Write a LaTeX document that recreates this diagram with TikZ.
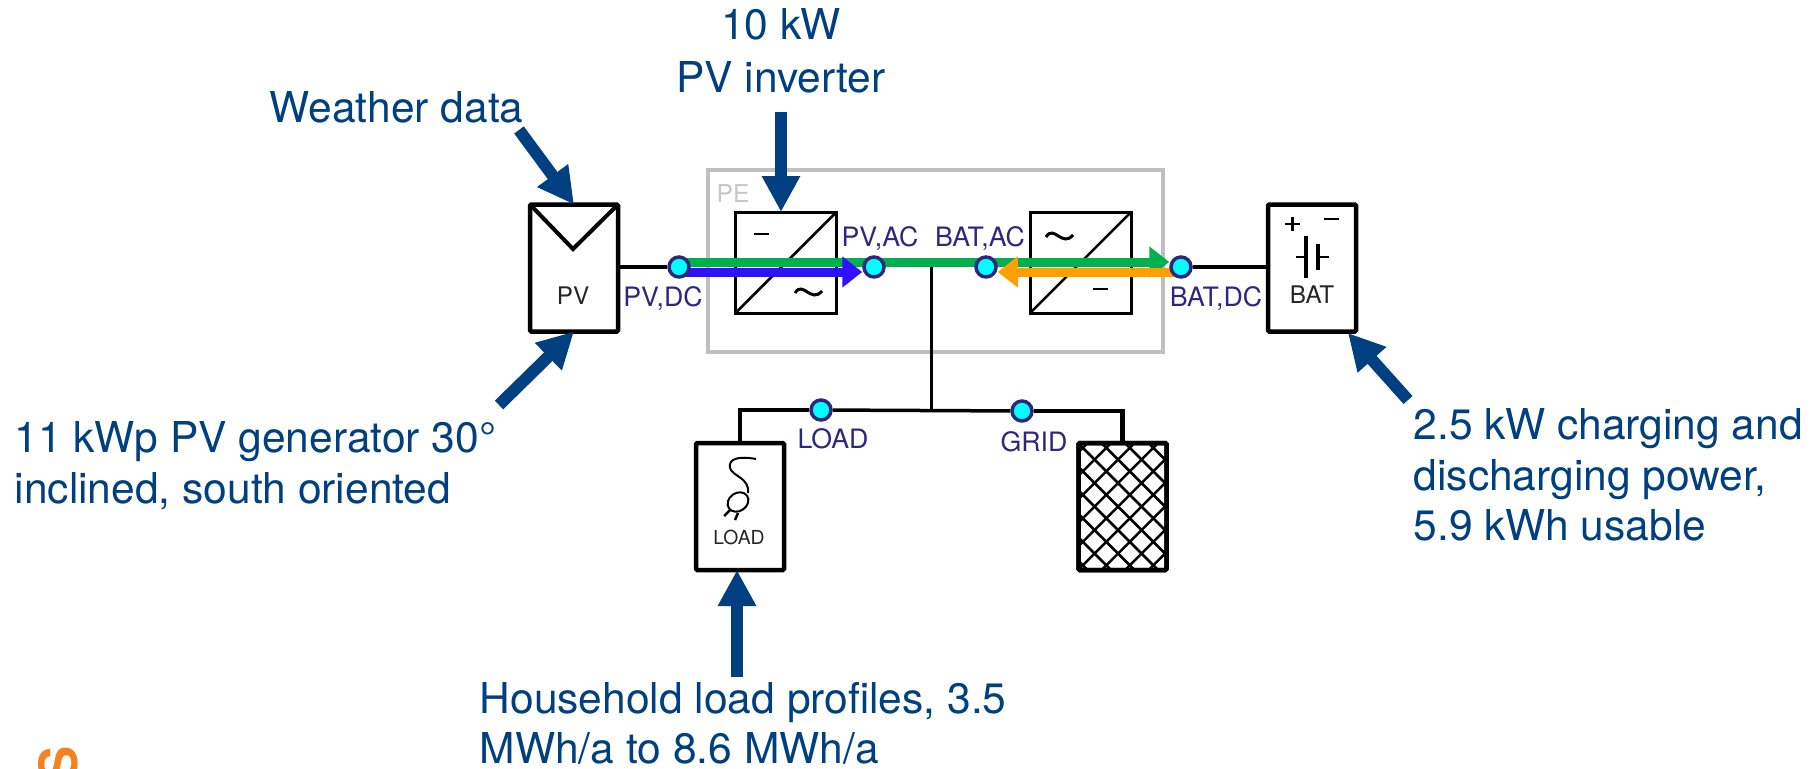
\documentclass[tikz,border=0pt]{standalone}
\usepackage{fontspec}
\setmainfont{TeX Gyre Heros}
\usetikzlibrary{arrows.meta,backgrounds}
\definecolor{navyarrow}{RGB}{0,63,128}
\definecolor{navylabel}{RGB}{45,40,125}
\definecolor{juncfill}{RGB}{0,255,255}
\definecolor{flowgreen}{RGB}{0,176,80}
\definecolor{flowblue}{RGB}{48,16,255}
\definecolor{floworange}{RGB}{255,160,0}
\definecolor{logoorange}{RGB}{245,130,32}
\tikzset{
    unit/.style={draw=black,line width=.045cm,inner sep=0pt,outer sep=0pt,minimum width=.88cm,minimum height=1.27cm,rounded corners=.4pt},
    conv/.style={draw=black,line width=.03cm,inner sep=0pt,outer sep=0pt,minimum size=1.01cm},
    junc/.style={circle,draw=navylabel,line width=.035cm,fill=juncfill,inner sep=0pt,minimum size=.2cm},
    wire/.style={draw=black,line width=.035cm},
    heavywire/.style={draw=black,line width=.045cm},
    sym/.style={draw=black,line width=.025cm},
    bigarrow/.style={draw=navyarrow,line width=.12cm,-{Triangle[length=.36cm,width=.36cm]}},
    flow/.style={line width=.09cm,-{Triangle[length=.2cm,width=.3cm]}},
    note/.style={font=\fontsize{12.1}{14.4}\selectfont,text=navyarrow,inner sep=0pt,anchor=west,align=left},
    tag/.style={font=\fontsize{7.6}{8}\selectfont,text=navylabel,inner sep=0pt},
    unitname/.style={font=\fontsize{6.9}{8}\selectfont,text=black!85,inner sep=0pt},
}
\begin{document}
\begin{tikzpicture}
    \path[use as bounding box,clip] (0,0) rectangle (18.19,-7.68);
    \node[junc] (pvdc) at (6.79,-2.67) {};
    \node[junc] (pvac) at (8.74,-2.67) {};
    \node[junc] (batac) at (9.86,-2.67) {};
    \node[junc] (batdc) at (11.81,-2.67) {};
    \node[junc] (loadpt) at (8.21,-4.10) {};
    \node[junc] (gridpt) at (10.22,-4.11) {};
    \node[unit] (pv) at (5.74,-2.68) {};
    \node[unit] (bat) at (13.12,-2.68) {};
    \node[unit] (load) at (7.40,-5.065) {};
    \node[unit] (grid) at (11.225,-5.065) {};
    \coordinate (acbus) at (9.315,-2.67);
    \coordinate (tee) at (9.315,-4.10);
    \begin{scope}[on background layer]
        \node[draw=black!25,line width=.045cm,minimum width=4.55cm,minimum height=1.82cm,inner sep=0pt] (pe) at (9.355,-2.61) {};
        \node[conv] (dcac) at (7.86,-2.625) {};
        \node[conv] (acdc) at (10.805,-2.625) {};
        \draw[sym] (dcac.south west)--(dcac.north east);
        \draw[sym] (acdc.south west)--(acdc.north east);
        \draw[wire] (pv.east|-pvdc)--(pvdc);
        \draw[wire] (batdc)--(bat.west|-batdc);
        \draw[wire] (acbus)--(tee);
        \draw[wire] (loadpt)--(gridpt);
        \draw[heavywire] (loadpt)-|(load.north);
        \draw[heavywire] (gridpt)-|(grid.north);
        \draw[flow,draw=flowgreen,fill=flowgreen] ([yshift=.05cm]pvdc.center)--([yshift=.05cm]batdc.west);
        \draw[flow,draw=flowblue,fill=flowblue] ([yshift=-.05cm]pvdc.center)--([yshift=-.05cm]pvac.west);
        \draw[flow,draw=floworange,fill=floworange] ([yshift=-.05cm]batdc.center)--([yshift=-.05cm]batac.east);
    \end{scope}
    \draw[line width=.04cm,line join=miter] (pv.north west)--(5.73,-2.49)--(pv.north east);
    \node[unitname] (pvname) at (5.73,-2.96) {PV};
    \node[unitname] (batname) at (13.12,-2.95) {BAT};
    \node[unitname,font=\fontsize{5.5}{7}\selectfont] (loadname) at (7.39,-5.37) {LOAD};
    \node[tag] (pvdctag) at (6.63,-2.98) {PV,DC};
    \node[tag] (pvactag) at (8.80,-2.38) {PV,AC};
    \node[tag] (batactag) at (9.80,-2.38) {BAT,AC};
    \node[tag] (batdctag) at (12.16,-2.98) {BAT,DC};
    \node[tag] (loadtag) at (8.33,-4.39) {LOAD};
    \node[tag] (gridtag) at (10.34,-4.42) {GRID};
    \node[tag,text=black!22,font=\fontsize{7}{8}\selectfont] (petag) at (7.33,-1.94) {PE};
    \draw[sym] (7.54,-2.34)--+(.15,0);
    \draw[sym] (10.93,-2.89)--+(.15,0);
    \draw[sym,line width=.03cm] (7.95,-2.93) .. controls (8.03,-2.80) and (8.11,-3.04) .. (8.22,-2.91);
    \draw[sym,line width=.03cm] (10.46,-2.37) .. controls (10.54,-2.24) and (10.62,-2.48) .. (10.73,-2.35);
    \draw[sym] (12.85,-2.24)--+(.15,0);
    \draw[sym] (12.925,-2.17)--+(0,-.14);
    \draw[sym] (13.24,-2.19)--+(.15,0);
    \draw[sym] (12.96,-2.57)--(13.06,-2.57);
    \draw[sym,line width=.035cm] (13.06,-2.36)--(13.06,-2.78);
    \draw[sym,line width=.035cm] (13.18,-2.44)--(13.18,-2.70);
    \draw[sym] (13.18,-2.57)--(13.29,-2.57);
    \draw[line width=.02cm] (7.56,-4.59) .. controls (7.40,-4.56) and (7.28,-4.58) .. (7.30,-4.68) .. controls (7.32,-4.76) and (7.50,-4.78) .. (7.48,-4.93);
    \draw[line width=.02cm,rotate around={35:(7.38,-5.02)}] (7.38,-5.02) ellipse (.11 and .09);
    \draw[line width=.025cm] (7.30,-5.10)--(7.24,-5.16);
    \draw[line width=.025cm] (7.38,-5.13)--(7.35,-5.20);
    \begin{scope}
        \clip (grid.south west) rectangle (grid.north east);
        \foreach \i in {-6,...,5} {
            \draw[line width=.025cm] ({10.78+.235*\i},-4.43)--++(1.4,-1.4);
            \draw[line width=.025cm] ({10.78+.235*\i},-5.70)--++(1.4,1.4);
        }
    \end{scope}
    \node[unit] at (grid) {};
    \node[note,align=center,anchor=center,font=\fontsize{12.1}{15.2}\selectfont] (invnote) at (7.81,-.51) {10 kW\\PV inverter};
    \node[note] (wxnote) at (2.69,-1.07) {Weather data};
    \node[note] (pvnote) at (.14,-4.655) {11 kWp PV generator 30°\\inclined, south oriented};
    \node[note] (batnote) at (14.13,-4.75) {2.5 kW charging and\\discharging power,\\5.9 kWh usable};
    \node[note] (loadnote) at (4.79,-7.235) {Household load profiles, 3.5\\MWh/a to 8.6 MWh/a};
    \coordinate (wxtail) at (5.19,-1.30);
    \coordinate (invtail) at (7.81,-1.12);
    \coordinate (pvtail) at (4.99,-4.05);
    \coordinate (battail) at (14.08,-4.00);
    \coordinate (battip) at (13.48,-3.33);
    \coordinate (loadtail) at (7.37,-6.77);
    \draw[bigarrow] (wxtail)--(pv.north);
    \draw[bigarrow] (invtail)--(dcac.north-|invtail);
    \draw[bigarrow] (pvtail)--(pv.south);
    \draw[bigarrow] (battail)--(battip);
    \draw[bigarrow] (loadtail)--(load.south-|loadtail);
    \node[font=\bfseries\fontsize{15}{15}\selectfont,text=logoorange,rotate=90,anchor=east,inner sep=0pt] (logo) at (.58,-7.46) {S};
\end{tikzpicture}
\end{document}
